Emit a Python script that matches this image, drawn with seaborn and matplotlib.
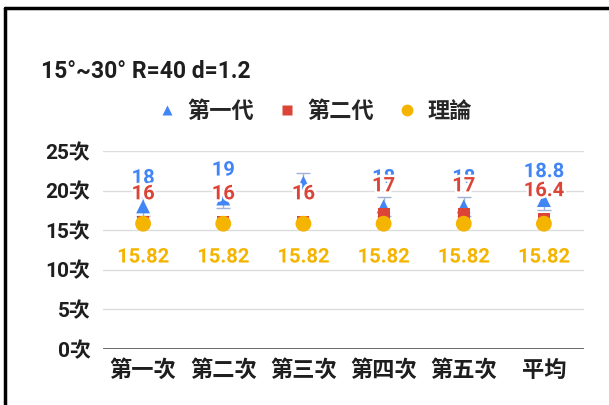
import matplotlib
matplotlib.use("Agg")
import matplotlib.pyplot as plt
import matplotlib.patheffects as pe
from matplotlib.lines import Line2D
import pandas as pd
import seaborn as sns

# Data
categories = ["第一次", "第二次", "第三次", "第四次", "第五次", "平均"]
gen1 = [18, 19, 21, 18, 18, 18.8]
gen2 = [16, 16, 16, 17, 17, 16.4]
theory = [15.82, 15.82, 15.82, 15.82, 15.82, 15.82]
gen1_err = [1.2, 1.2, 1.2, 1.2, 1.2, 1.2]
y_ticks = [0, 5, 10, 15, 20, 25]
series_names = ["第一代", "第二代", "理論"]

BLUE, RED, YELLOW = "#4285F4", "#DB4437", "#F4B400"

sns.set_theme(style="white")
plt.rcParams["font.family"] = ["Roboto", "Noto Sans CJK TC", "DejaVu Sans"]
CJK = ["Noto Sans CJK TC", "DejaVu Sans"]

df = pd.DataFrame({"cat": categories, "gen1": gen1, "gen2": gen2, "theory": theory})

fig = plt.figure(figsize=(6.09, 4.05), dpi=100)
ax = fig.add_axes([103 / 609, 56 / 405, 481 / 609, 198 / 405])

# gridlines and baseline
for t in y_ticks[1:]:
    ax.axhline(t, color="#dcdcdc", lw=1.0, zorder=0)
ax.axhline(0, color="#3c3c3c", lw=1.8, zorder=1)

# error bars for the first generation
ax.errorbar(range(len(categories)), gen1, yerr=gen1_err, fmt="none",
            ecolor="#9fb3d6", elinewidth=1.0, capsize=5, capthick=1.0, zorder=2)

sns.scatterplot(data=df, x="cat", y="gen1", marker="^", s=100, color=BLUE,
                edgecolor="none", ax=ax, zorder=3)
sns.scatterplot(data=df, x="cat", y="gen2", marker="s", s=75, color=RED,
                edgecolor="none", ax=ax, zorder=4)
sns.scatterplot(data=df, x="cat", y="theory", marker="o", s=130, color=YELLOW,
                edgecolor="none", ax=ax, zorder=5)

ax.set_xlim(-0.5, len(categories) - 0.5)
ax.set_ylim(0, 25)
ax.set_yticks(y_ticks)
ax.set_yticklabels([f"{t}次" for t in y_ticks], fontsize=15, fontweight="bold",
                   color="#1e1e1e")
ax.set_xticks(range(len(categories)))
ax.set_xticklabels(categories, fontsize=16, fontweight="bold", color="#1e1e1e",
                   family=CJK)
ax.tick_params(axis="y", length=0, pad=9)
ax.tick_params(axis="x", length=0, pad=7)
ax.set_xlabel("")
ax.set_ylabel("")
for s in ax.spines.values():
    s.set_visible(False)
ax.set_facecolor("none")

halo = [pe.withStroke(linewidth=3.5, foreground="white")]


def fmt(v):
    return f"{v:g}"


def label_series(values, color, offset_pt):
    top_px = ax.transData.transform((0, 25))[1]
    for i, v in enumerate(values):
        y_px = ax.transData.transform((i, v))[1] + offset_pt / 72 * fig.dpi
        # labels that would poke above the plotting area are skipped
        if y_px + 8 > top_px:
            continue
        ax.annotate(fmt(v), (i, v), xytext=(0, offset_pt), textcoords="offset points",
                    ha="center", va="center", fontsize=14.5, fontweight="bold",
                    color=color, path_effects=halo, zorder=10,
                    annotation_clip=False)


label_series(gen1, BLUE, 20.5)
label_series(gen2, RED, 20.5)
label_series(theory, YELLOW, -24)

# title
fig.text(41 / 609, 1 - 72 / 405, "15°~30° R=40 d=1.2", fontsize=16.5,
         fontweight="bold", color="#1e1e1e", ha="left", va="center")

# legend
handles = [
    Line2D([], [], ls="none", marker="^", ms=7, color=BLUE, mec="none"),
    Line2D([], [], ls="none", marker="s", ms=6.5, color=RED, mec="none"),
    Line2D([], [], ls="none", marker="o", ms=8.5, color=YELLOW, mec="none"),
]
fig.legend(handles, series_names, loc="center", bbox_to_anchor=(314 / 609, 1 - 111 / 405),
           ncol=3, frameon=False, handletextpad=0.4, columnspacing=1.0,
           handlelength=1.0, prop={"size": 16, "weight": "bold", "family": CJK})

# frame edges
fig.add_artist(Line2D([5 / 609, 1], [1 - 7.5 / 405, 1 - 7.5 / 405],
                      transform=fig.transFigure, color="black", lw=2.5))
fig.add_artist(Line2D([5 / 609, 5 / 609], [0, 1 - 7.5 / 405],
                      transform=fig.transFigure, color="black", lw=2.5))

fig.savefig("out.png", dpi=100, facecolor="white")
